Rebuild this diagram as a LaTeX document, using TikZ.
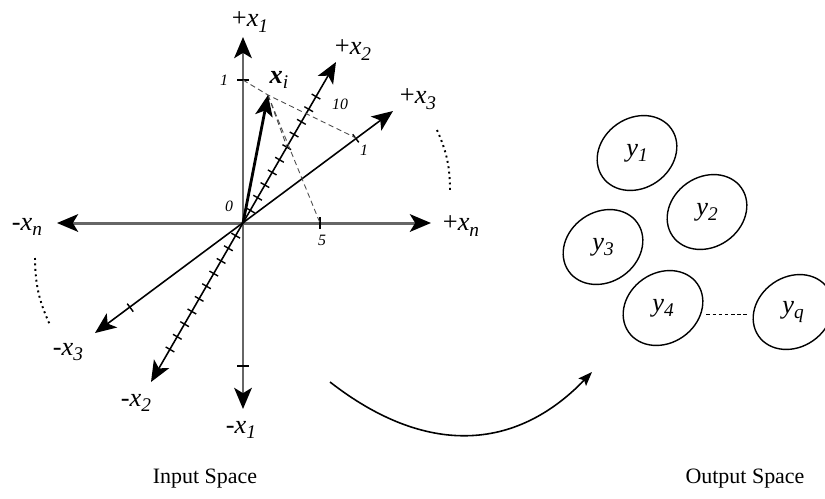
\documentclass[tikz,border=0pt]{standalone}
\usepackage{fontspec}
\setmainfont{Liberation Serif}
\usetikzlibrary{arrows.meta,shapes.geometric}
\tikzset{every picture/.style={>={Stealth[length=12pt,width=10pt,inset=3pt,color=black]}}}
\newcommand{\subi}[1]{\raisebox{-0.45ex}{\fontsize{11}{11}\selectfont\textit{#1}}}
\newcommand{\axlab}[2]{#1\textit{x}\subi{#2}}
\newcommand{\outlab}[1]{\textit{y}\subi{#1}}

\begin{document}
\begin{tikzpicture}[x=0.02cm,y=-0.02cm,
    axis/.style={<->,line width=1.7pt,draw=black!60},
    slant/.style={<->,line width=0.9pt},
    vec/.style={->,line width=1.6pt},
    tick/.style={line width=0.8pt},
    proj/.style={black!70,line width=0.5pt,dash pattern=on 3pt off 2pt},
    dots/.style={dotted,line width=1.1pt},
    lab/.style={font=\fontsize{15}{17}\selectfont,inner sep=0pt},
    num/.style={font=\fontsize{9}{10}\selectfont\itshape,inner sep=0pt},
    outset/.style={ellipse,draw,line width=0.8pt,minimum width=1.68cm,minimum height=1.4cm,rotate=35},
    spacecap/.style={font=\fontsize{12.5}{14}\selectfont,inner sep=0pt}]
    \useasboundingbox (0,0) rectangle (825,498);

    % input space
    \coordinate (O) at (243,223);
    \coordinate (p1) at (243,37);
    \coordinate (m1) at (243,409);
    \coordinate (pn) at (431,223);
    \coordinate (mn) at (57,223);
    \coordinate (p2) at (336,62);
    \coordinate (m2) at (151,382);
    \coordinate (p3) at (393,111);
    \coordinate (m3) at (95,333);
    \coordinate (xi) at (268,95);

    \draw[axis] (m1) -- (p1);
    \draw[axis] (mn) -- (pn);
    \draw[slant] (m2) -- (p2);
    \draw[slant] (m3) -- (p3);

    \begin{scope}[shift={(O)},rotate=60]
      \foreach \i in {-10,...,-1,1,2,...,10}
        \draw[tick] (\i*14.6,-5) -- (\i*14.6,5);
    \end{scope}
    \begin{scope}[shift={(O)},rotate=36.9]
      \foreach \i in {-1,1}
        \draw[tick] (\i*141,-5) -- (\i*141,5);
    \end{scope}
    \foreach \i in {-1,1}
      \draw[tick] (237,223-\i*143) -- (249,223-\i*143);
    \draw[tick,line width=1.2pt] (320,217) -- (320,229);

    \coordinate (t1) at (243,80);
    \coordinate (t3) at (356,138);
    \coordinate (t5) at (320,223);
    \coordinate (t2) at (287,147);
    \draw[proj] (t1) -- (xi) -- (t3);
    \draw[proj] (xi) -- (t5);
    \draw[proj] (xi) -- (t2);
    \draw[vec] (O) -- (xi);

    \node[lab] (lp1) at (250,22) {\axlab{+}{1}};
    \node[lab] (lm1) at (241,430) {\axlab{-}{1}};
    \node[lab] (lp2) at (353,50) {\axlab{+}{2}};
    \node[lab] (lm2) at (136,403) {\axlab{-}{2}};
    \node[lab] (lp3) at (418,99) {\axlab{+}{3}};
    \node[lab] (lm3) at (68,352) {\axlab{-}{3}};
    \node[lab] (lpn) at (461,226) {\axlab{+}{n}};
    \node[lab] (lmn) at (27,227) {\axlab{-}{n}};
    \node[lab] (lxi) at (279,80) {\textbf{\textit{x}}\subi{i}};

    \node[num] (n0) at (229,206) {0};
    \node[num] (n1) at (224,80) {1};
    \node[num] (n10) at (340,104) {10};
    \node[num] (n3) at (364,150) {1};
    \node[num] (n5) at (322,240) {5};

    \coordinate (dp1) at (437,130);
    \coordinate (dp2) at (450,192);
    \coordinate (dm1) at (35,258);
    \coordinate (dm2) at (50,325);
    \draw[dots] (dp1) to[bend left=12] (dp2);
    \draw[dots] (dm1) to[bend right=12] (dm2);

    % output space
    \node[outset] (y1) at (637,153) {};
    \node[outset] (y2) at (707,212) {};
    \node[outset] (y3) at (603,247) {};
    \node[outset] (y4) at (663,308) {};
    \node[outset] (yq) at (793,312) {};
    \node[lab] (y1t) at (y1) {\outlab{1}};
    \node[lab] (y2t) at (y2) {\outlab{2}};
    \node[lab] (y3t) at (y3) {\outlab{3}};
    \node[lab] (y4t) at (y4) {\outlab{4}};
    \node[lab] (yqt) at (yq) {\outlab{q}};
    \draw[dash pattern=on 2pt off 1.5pt,line width=0.6pt,shorten <=3pt,shorten >=3pt] (y4.-45) -- (y4.-45 -| yq.145);

    % mapping
    \coordinate (mapfrom) at (330,382);
    \coordinate (mapto) at (592,372);
    \draw[line width=0.9pt,-{Stealth[length=8pt,width=6pt,inset=1.5pt]}] (mapfrom) .. controls (425,456) and (515,452) .. (mapto);

    \node[spacecap] (inspace) at (205,479) {Input Space};
    \node[spacecap] (outspace) at (745,479) {Output Space};
  \end{tikzpicture}
\end{document}
